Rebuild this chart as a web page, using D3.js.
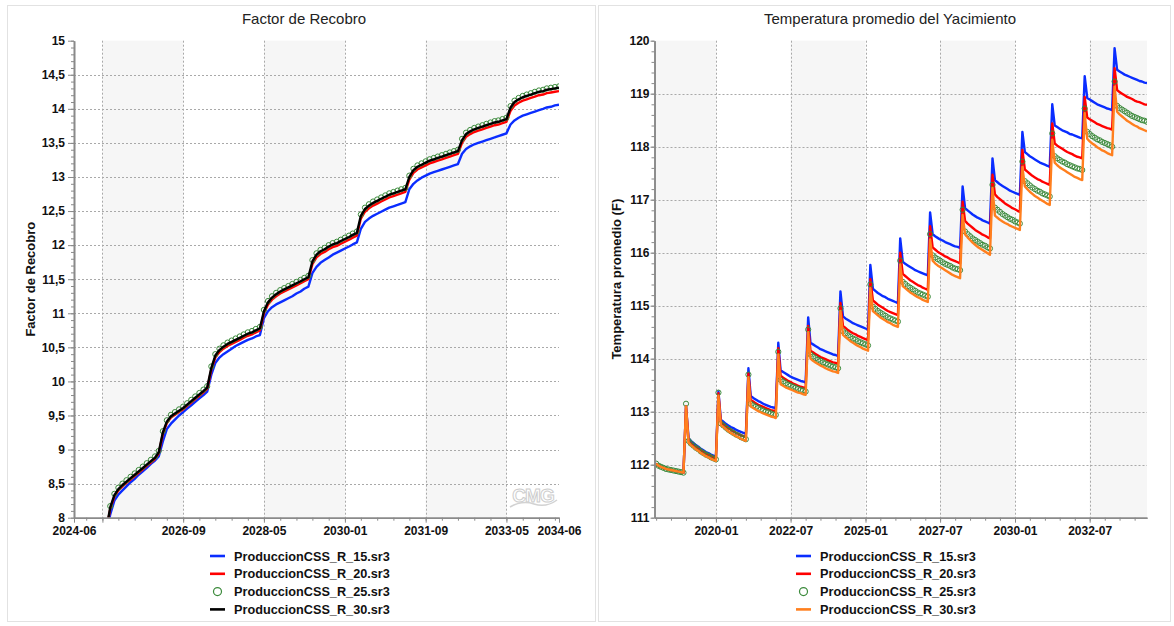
<!DOCTYPE html>
<html><head><meta charset="utf-8">
<script src="https://cdn.jsdelivr.net/npm/d3@7"></script>
<style>
html,body{margin:0;padding:0;background:#fff;}
svg{display:block;font-family:"Liberation Sans",Arial,sans-serif;}
</style></head><body>
<svg id="chart" width="1174" height="626"></svg>
<script>
// ---------------- DATA ----------------
const seriesNames = ["ProduccionCSS_R_15.sr3","ProduccionCSS_R_20.sr3","ProduccionCSS_R_25.sr3","ProduccionCSS_R_30.sr3"];

// Factor de Recobro — monthly values, 2024-06 .. 2034-06
const frStart = "2024-06", frEnd = "2034-06";
const fr15 = [
7.48,7.51,7.54,7.57,7.6,7.63,7.66,7.69,7.78,
8.05,8.25,8.34,8.4,8.46,8.52,8.57,8.63,8.68,8.73,8.79,8.84,8.9,
9.12,9.3,9.38,9.44,9.5,9.55,9.6,9.65,9.7,9.75,9.8,9.85,
10.1,10.27,10.35,10.4,10.44,10.48,10.52,10.55,10.58,10.61,10.63,10.66,10.68,
10.93,11.03,11.09,11.13,11.16,11.19,11.22,11.25,11.29,11.32,11.36,11.39,
11.59,11.68,11.74,11.78,11.82,11.86,11.89,11.92,11.95,11.98,12.01,12.04,
12.24,12.34,12.39,12.43,12.46,12.49,12.52,12.55,12.57,12.59,12.61,12.63,
12.82,12.9,12.95,12.99,13.02,13.05,13.07,13.09,13.11,13.13,13.15,13.17,13.19,
13.34,13.41,13.45,13.48,13.5,13.52,13.54,13.56,13.58,13.6,13.62,13.64,
13.77,13.83,13.87,13.9,13.92,13.94,13.96,13.98,14.0,14.02,14.03,14.05,14.06];
const fr20 = [
7.51,7.54,7.57,7.6,7.63,7.66,7.69,7.72,7.83,
8.13,8.31,8.4,8.46,8.51,8.56,8.61,8.66,8.71,8.76,8.81,8.86,8.94,
9.23,9.39,9.47,9.51,9.55,9.59,9.64,9.69,9.74,9.79,9.84,9.89,
10.17,10.35,10.43,10.48,10.52,10.55,10.58,10.61,10.64,10.67,10.69,10.72,10.75,
11.0,11.13,11.2,11.25,11.29,11.32,11.35,11.38,11.41,11.44,11.47,11.5,
11.72,11.82,11.87,11.9,11.94,11.97,11.99,12.02,12.05,12.08,12.11,12.14,
12.39,12.49,12.54,12.58,12.61,12.64,12.67,12.7,12.72,12.74,12.76,12.78,
12.96,13.06,13.11,13.14,13.17,13.2,13.22,13.24,13.26,13.28,13.3,13.32,13.34,
13.5,13.59,13.63,13.66,13.68,13.7,13.72,13.74,13.76,13.77,13.79,13.81,
13.97,14.05,14.09,14.12,14.14,14.16,14.18,14.2,14.21,14.23,14.24,14.25,14.26];
const fr25 = [
7.53,7.56,7.59,7.62,7.65,7.68,7.71,7.74,7.86,
8.17,8.35,8.44,8.5,8.55,8.6,8.65,8.7,8.75,8.8,8.85,8.9,8.98,
9.27,9.43,9.51,9.55,9.59,9.63,9.68,9.73,9.78,9.83,9.88,9.93,
10.22,10.4,10.48,10.53,10.57,10.6,10.63,10.66,10.69,10.72,10.74,10.77,10.8,
11.05,11.18,11.25,11.3,11.34,11.37,11.4,11.43,11.46,11.49,11.52,11.55,
11.78,11.88,11.93,11.96,12.0,12.03,12.05,12.08,12.11,12.14,12.17,12.2,
12.45,12.55,12.6,12.64,12.67,12.7,12.73,12.76,12.78,12.8,12.82,12.84,
13.02,13.12,13.17,13.2,13.23,13.26,13.28,13.3,13.32,13.34,13.36,13.38,13.4,
13.56,13.65,13.69,13.72,13.74,13.76,13.78,13.8,13.82,13.83,13.85,13.87,
14.04,14.12,14.16,14.19,14.21,14.23,14.25,14.27,14.28,14.3,14.31,14.32,14.33];
const fr30 = [
7.52,7.55,7.58,7.61,7.64,7.67,7.7,7.73,7.85,
8.15,8.33,8.42,8.48,8.53,8.58,8.63,8.68,8.73,8.78,8.83,8.88,8.96,
9.25,9.41,9.49,9.53,9.57,9.61,9.66,9.71,9.76,9.81,9.86,9.91,
10.2,10.38,10.46,10.51,10.55,10.58,10.61,10.64,10.67,10.7,10.72,10.75,10.78,
11.03,11.16,11.23,11.28,11.32,11.35,11.38,11.41,11.44,11.47,11.5,11.53,
11.76,11.86,11.91,11.94,11.98,12.01,12.03,12.06,12.09,12.12,12.15,12.18,
12.43,12.53,12.58,12.62,12.65,12.68,12.71,12.74,12.76,12.78,12.8,12.82,
13.0,13.1,13.15,13.18,13.21,13.24,13.26,13.28,13.3,13.32,13.34,13.36,13.38,
13.54,13.63,13.67,13.7,13.72,13.74,13.76,13.78,13.8,13.81,13.83,13.85,
14.02,14.1,14.14,14.17,14.19,14.21,14.23,14.25,14.26,14.28,14.29,14.3,14.31];
const frXTicks = ["2025-01","2026-09","2028-05","2030-01","2031-09","2033-05"];
const frHiddenLabels = ["2025-01"];
const frYTicks = [8,8.5,9,9.5,10,10.5,11,11.5,12,12.5,13,13.5,14,14.5,15];

// Temperatura promedio — monthly values, 2018-01 .. 2034-06
const tpStart = "2018-01", tpEnd = "2034-06";
const tp15 = [
112.02,111.98,111.96,111.94,111.92,111.91,111.9,111.89,111.88,111.87,111.86,111.85,
113.1,112.5,112.45,112.41,112.37,112.34,112.3,112.27,112.24,112.22,112.19,112.17,112.15,
113.38,112.85,112.81,112.77,112.74,112.71,112.69,112.66,112.64,112.62,112.6,112.58,
113.82,113.3,113.26,113.23,113.2,113.18,113.15,113.13,113.11,113.09,113.08,113.06,
114.3,113.78,113.75,113.72,113.69,113.66,113.64,113.62,113.6,113.58,113.57,113.55,
114.78,114.3,114.27,114.24,114.21,114.18,114.16,114.14,114.12,114.1,114.08,114.07,114.05,
115.27,114.8,114.76,114.73,114.7,114.67,114.65,114.63,114.61,114.59,114.57,114.55,
115.77,115.32,115.28,115.24,115.21,115.18,115.16,115.13,115.11,115.09,115.07,115.05,
116.27,115.83,115.79,115.76,115.73,115.7,115.67,115.65,115.63,115.61,115.59,115.57,
116.76,116.35,116.31,116.28,116.25,116.23,116.2,116.18,116.16,116.14,116.12,116.11,116.09,
117.25,116.84,116.8,116.76,116.72,116.69,116.66,116.64,116.61,116.59,116.57,116.55,
117.78,117.37,117.33,117.29,117.26,117.23,117.2,117.17,117.15,117.13,117.11,117.09,
118.28,117.9,117.86,117.82,117.79,117.76,117.73,117.7,117.68,117.66,117.64,117.62,
118.8,118.4,118.37,118.34,118.31,118.29,118.27,118.24,118.23,118.21,118.19,118.17,118.16,
119.33,118.92,118.89,118.86,118.83,118.8,118.78,118.76,118.74,118.72,118.71,118.69,
119.86,119.45,119.42,119.39,119.36,119.34,119.32,119.3,119.28,119.26,119.24,119.23,119.21,119.2];
const tp20 = [
112.02,111.98,111.96,111.94,111.92,111.91,111.9,111.89,111.88,111.87,111.86,111.85,
113.1,112.45,112.4,112.36,112.33,112.3,112.27,112.24,112.21,112.18,112.16,112.14,112.12,
113.35,112.8,112.76,112.72,112.69,112.66,112.63,112.6,112.58,112.56,112.54,112.52,
113.72,113.22,113.19,113.16,113.13,113.11,113.09,113.07,113.05,113.03,113.02,113.0,
114.2,113.68,113.64,113.61,113.58,113.56,113.53,113.51,113.49,113.47,113.46,113.44,
114.62,114.15,114.12,114.09,114.06,114.03,114.01,113.99,113.97,113.95,113.93,113.92,113.9,
115.05,114.62,114.58,114.54,114.51,114.48,114.46,114.43,114.41,114.39,114.37,114.35,
115.5,115.1,115.06,115.02,114.99,114.96,114.93,114.9,114.88,114.86,114.84,114.82,
116.0,115.6,115.56,115.52,115.48,115.45,115.42,115.39,115.37,115.34,115.32,115.3,
116.5,116.1,116.06,116.02,115.99,115.96,115.93,115.91,115.88,115.86,115.84,115.82,115.8,
116.96,116.6,116.55,116.51,116.47,116.43,116.4,116.37,116.34,116.32,116.29,116.27,
117.47,117.1,117.05,117.01,116.97,116.93,116.9,116.87,116.84,116.82,116.79,116.77,
117.94,117.57,117.53,117.49,117.45,117.42,117.39,117.37,117.34,117.32,117.3,117.28,
118.44,118.06,118.02,117.99,117.96,117.93,117.9,117.88,117.86,117.83,117.81,117.8,117.78,
118.94,118.55,118.52,118.49,118.46,118.43,118.41,118.39,118.37,118.35,118.34,118.32,
119.48,119.07,119.03,119.0,118.97,118.94,118.92,118.9,118.87,118.85,118.84,118.82,118.8,118.79];
const tp25 = [
112.02,111.98,111.96,111.94,111.92,111.91,111.9,111.89,111.88,111.87,111.86,111.85,
113.15,112.45,112.4,112.36,112.32,112.29,112.25,112.22,112.19,112.17,112.14,112.12,112.1,
113.36,112.78,112.74,112.7,112.66,112.63,112.6,112.57,112.55,112.52,112.5,112.48,
113.7,113.15,113.12,113.09,113.07,113.04,113.02,113.0,112.99,112.97,112.95,112.94,
114.13,113.6,113.57,113.54,113.51,113.49,113.47,113.45,113.43,113.41,113.4,113.38,
114.55,114.08,114.04,114.01,113.98,113.96,113.93,113.91,113.89,113.87,113.85,113.84,113.82,
114.95,114.52,114.48,114.44,114.41,114.38,114.36,114.33,114.31,114.29,114.27,114.25,
115.4,114.98,114.94,114.9,114.87,114.84,114.81,114.78,114.76,114.74,114.72,114.7,
115.85,115.45,115.41,115.37,115.34,115.31,115.28,115.25,115.23,115.21,115.19,115.17,
116.35,115.95,115.91,115.88,115.85,115.82,115.79,115.77,115.75,115.72,115.7,115.69,115.67,
116.81,116.4,116.35,116.31,116.27,116.24,116.21,116.18,116.15,116.13,116.1,116.08,
117.28,116.85,116.81,116.77,116.73,116.7,116.67,116.64,116.62,116.59,116.57,116.55,
117.72,117.35,117.31,117.27,117.23,117.2,117.17,117.15,117.12,117.1,117.08,117.06,
118.25,117.82,117.78,117.75,117.72,117.7,117.67,117.65,117.63,117.61,117.59,117.58,117.56,
118.72,118.28,118.24,118.2,118.17,118.14,118.12,118.09,118.07,118.05,118.03,118.0,
119.23,118.77,118.73,118.7,118.67,118.64,118.61,118.58,118.56,118.54,118.52,118.5,118.49,118.47];
const tp30 = [
112.02,111.98,111.96,111.94,111.92,111.91,111.9,111.89,111.88,111.87,111.86,111.85,
113.1,112.42,112.37,112.33,112.29,112.26,112.22,112.19,112.16,112.14,112.11,112.09,112.07,
113.3,112.75,112.71,112.67,112.63,112.6,112.57,112.54,112.52,112.49,112.47,112.45,
113.65,113.1,113.07,113.04,113.01,112.99,112.97,112.95,112.93,112.91,112.9,112.88,
114.08,113.52,113.49,113.46,113.44,113.42,113.4,113.38,113.36,113.35,113.33,113.32,
114.5,114.0,113.96,113.93,113.9,113.87,113.85,113.82,113.8,113.78,113.76,113.75,113.73,
114.9,114.45,114.41,114.37,114.33,114.3,114.27,114.24,114.22,114.19,114.17,114.15,
115.33,114.9,114.86,114.82,114.78,114.75,114.72,114.69,114.67,114.64,114.62,114.6,
115.78,115.37,115.33,115.29,115.25,115.22,115.19,115.16,115.14,115.11,115.09,115.07,
116.25,115.85,115.8,115.76,115.73,115.7,115.67,115.64,115.61,115.58,115.56,115.54,115.52,
116.71,116.35,116.29,116.24,116.19,116.15,116.11,116.08,116.05,116.02,115.99,115.96,
117.22,116.7,116.66,116.62,116.59,116.56,116.54,116.51,116.49,116.47,116.45,116.43,
117.62,117.25,117.2,117.15,117.11,117.07,117.04,117.01,116.98,116.95,116.92,116.9,
118.13,117.7,117.65,117.61,117.58,117.55,117.52,117.49,117.46,117.43,117.41,117.39,117.37,
118.63,118.15,118.1,118.06,118.03,117.99,117.96,117.93,117.91,117.88,117.86,117.84,
119.13,118.66,118.61,118.57,118.53,118.49,118.46,118.43,118.4,118.38,118.35,118.33,118.31,118.29];
const tpXTicks = ["2020-01","2022-07","2025-01","2027-07","2030-01","2032-07"];
const tpYTicks = [111,112,113,114,115,116,117,118,119,120];

// ---------------- DRAWING ----------------
const parseM = d3.timeParse("%Y-%m");
const parseD = d3.timeParse("%Y-%m-%d");
const fmtM = d3.timeFormat("%Y-%m");
const svg = d3.select("#chart");
const AXIS = "#8a8a8a", GRID = "#a9a9a9", BAND = "#f6f6f6";

function monthsBetween(a, b) { return d3.timeMonth.range(parseM(a), d3.timeDay.offset(parseM(b), 1)); }

function drawChart(cfg) {
  const g = svg.append("g");
  g.append("rect").attr("x", cfg.panel[0]+0.5).attr("y", cfg.panel[1]+0.5)
    .attr("width", cfg.panel[2]).attr("height", cfg.panel[3])
    .attr("fill", "#fff").attr("stroke", "#e2e2e2");

  const x = d3.scaleTime().domain(cfg.xDomain).range([cfg.x0, cfg.x1]);
  const y = d3.scaleLinear().domain(cfg.yDomain).range([cfg.yBot, cfg.yTop]);
  const majors = cfg.xTicks.map(parseM);

  // alternating bands
  const bounds = [cfg.xDomain[0], ...majors, cfg.xDomain[1]];
  for (let i = 0; i < bounds.length - 1; i++) {
    if (i % 2 === cfg.shadeParity) {
      g.append("rect").attr("x", x(bounds[i])).attr("y", cfg.yTop)
        .attr("width", x(bounds[i+1]) - x(bounds[i])).attr("height", cfg.yBot - cfg.yTop)
        .attr("fill", BAND);
    }
  }
  // grid
  g.append("g").selectAll("line").data(cfg.yTicks.filter(v => v > cfg.yDomain[0] && v < cfg.yDomain[1]))
    .join("line").attr("x1", cfg.x0).attr("x2", cfg.x1)
    .attr("y1", d => Math.round(y(d)) + 0.5).attr("y2", d => Math.round(y(d)) + 0.5)
    .attr("stroke", GRID).attr("stroke-dasharray", "2,2");
  g.append("g").selectAll("line").data(majors)
    .join("line").attr("y1", cfg.yTop).attr("y2", cfg.yBot)
    .attr("x1", d => Math.round(x(d)) + 0.5).attr("x2", d => Math.round(x(d)) + 0.5)
    .attr("stroke", GRID).attr("stroke-dasharray", "2,2");

  // watermark
  if (cfg.logo) {
    const lg = g.append("g").attr("fill", "none").attr("stroke", "#d2d2d2");
    lg.append("text").attr("x", 533).attr("y", 502).attr("text-anchor", "middle")
      .attr("font-size", 19).attr("font-weight", "bold").attr("fill", "#ffffff")
      .attr("stroke", "#cdcdcd").attr("stroke-width", 1).attr("letter-spacing", -1).text("CMG");
    lg.append("path").attr("d", "M510,507 Q522,500 534,504 T557,500").attr("stroke-width", 1.5);
  }

  // clip
  const clipId = "clip" + cfg.id;
  svg.append("defs").append("clipPath").attr("id", clipId).append("rect")
    .attr("x", cfg.x0).attr("y", cfg.yTop - 2).attr("width", cfg.x1 - cfg.x0).attr("height", cfg.yBot - cfg.yTop + 2);
  const plot = g.append("g").attr("clip-path", `url(#${clipId})`);

  const dates = monthsBetween(cfg.start, cfg.end);
  const line = d3.line().x(d => x(d[0])).y(d => y(d[1]));
  cfg.series.forEach(s => {
    const pts = s.values.map((v, i) => [dates[i], v]).filter(p => p[0]);
    if (s.marker) {
      plot.append("g").selectAll("circle").data(pts).join("circle")
        .attr("cx", d => x(d[0])).attr("cy", d => y(d[1])).attr("r", 2.6)
        .attr("fill", "none").attr("stroke", s.color).attr("stroke-width", 1);
    } else {
      plot.append("path").datum(pts).attr("d", line).attr("fill", "none")
        .attr("stroke", s.color).attr("stroke-width", 2.4).attr("stroke-linejoin", "round");
    }
  });

  // axes
  const yAxis = d3.axisLeft(y).tickValues(cfg.yTicks).tickSize(cfg.yTickSize).tickPadding(cfg.yTickPad)
    .tickSizeOuter(0).tickFormat(d => String(d).replace(".", ","));
  const ya = g.append("g").attr("transform", `translate(${cfg.x0},0)`).call(yAxis);
  const yMinor = d3.axisLeft(y).tickValues(d3.range(cfg.yDomain[0], cfg.yDomain[1] + 1e-6, cfg.yMinor).map(v => +v.toFixed(2)))
    .tickSize(3).tickFormat("").tickSizeOuter(0);
  const ym = g.append("g").attr("transform", `translate(${cfg.x0},0)`).call(yMinor);

  const xTickVals = cfg.endLabels ? [cfg.xDomain[0], ...majors, cfg.xDomain[1]] : majors;
  const hidden = new Set(cfg.hiddenLabels || []);
  const xAxis = d3.axisBottom(x).tickValues(xTickVals).tickSize(5).tickPadding(4).tickSizeOuter(0)
    .tickFormat(d => hidden.has(fmtM(d)) ? "" : fmtM(d));
  const xa = g.append("g").attr("transform", `translate(0,${cfg.yBot})`).call(xAxis);
  const xMinor = d3.axisBottom(x).tickValues(d3.timeMonth.every(cfg.xMinor).range(cfg.xDomain[0], cfg.xDomain[1]))
    .tickSize(3).tickFormat("").tickSizeOuter(0);
  const xm = g.append("g").attr("transform", `translate(0,${cfg.yBot})`).call(xMinor);

  [ya, ym, xa, xm].forEach(a => {
    a.select(".domain").attr("stroke", AXIS).attr("stroke-width", 1.6);
    a.selectAll(".tick line").attr("stroke", AXIS);
    a.selectAll("text").attr("font-family", "Liberation Sans, Arial, sans-serif")
      .attr("font-size", 12).attr("font-weight", "bold").attr("fill", "#111");
  });

  // titles
  g.append("text").attr("x", cfg.titleX).attr("y", 24).attr("text-anchor", "middle")
    .attr("font-size", 15).attr("fill", "#222").text(cfg.title);
  g.append("text").attr("transform", `translate(${cfg.yLabelX},${(cfg.yTop + cfg.yBot) / 2}) rotate(-90)`)
    .attr("text-anchor", "middle").attr("font-size", 13).attr("font-weight", "bold").attr("fill", "#111")
    .text(cfg.yLabel);

  // legend
  const lgd = g.append("g");
  cfg.series.forEach((s, i) => {
    const cy = 556 + i * 17.8;
    if (s.marker) {
      lgd.append("circle").attr("cx", cfg.legX + 7.5).attr("cy", cy).attr("r", 4)
        .attr("fill", "none").attr("stroke", s.color).attr("stroke-width", 1.2);
    } else {
      lgd.append("line").attr("x1", cfg.legX).attr("x2", cfg.legX + 15).attr("y1", cy).attr("y2", cy)
        .attr("stroke", s.color).attr("stroke-width", 2.6);
    }
    lgd.append("text").attr("x", cfg.legX + 24).attr("y", cy).attr("dy", "0.36em")
      .attr("font-size", 12.7).attr("font-weight", "bold").attr("fill", "#111").text(s.name);
  });
}

drawChart({
  id: "L", panel: [7, 5, 588, 616],
  x0: 74, x1: 559, yTop: 40.7, yBot: 517.7,
  xDomain: [parseM(frStart), parseM(frEnd)], yDomain: [8, 15],
  xTicks: frXTicks, hiddenLabels: frHiddenLabels, endLabels: true, shadeParity: 1,
  yTicks: frYTicks, yMinor: 0.1, xMinor: 4, yTickSize: 6, yTickPad: 3,
  start: frStart, end: frEnd, logo: true,
  title: "Factor de Recobro", titleX: 304, yLabel: "Factor de Recobro", yLabelX: 35,
  legX: 210,
  series: [
    {name: seriesNames[0], values: fr15, color: "#0a2dff"},
    {name: seriesNames[1], values: fr20, color: "#ff0000"},
    {name: seriesNames[2], values: fr25, color: "#3b8a3b", marker: true},
    {name: seriesNames[3], values: fr30, color: "#000000"}
  ]
});

drawChart({
  id: "R", panel: [598, 5, 572, 616],
  x0: 654.5, x1: 1147, yTop: 40.7, yBot: 517.7,
  xDomain: [parseD("2017-12-12"), parseM(tpEnd)], yDomain: [111, 120],
  xTicks: tpXTicks, endLabels: false, shadeParity: 0,
  yTicks: tpYTicks, yMinor: 0.2, xMinor: 6, yTickSize: 4, yTickPad: 1,
  start: tpStart, end: tpEnd, logo: false,
  title: "Temperatura promedio del Yacimiento", titleX: 890, yLabel: "Temperatura promedio (F)", yLabelX: 621,
  legX: 796,
  series: [
    {name: seriesNames[0], values: tp15, color: "#0a2dff"},
    {name: seriesNames[1], values: tp20, color: "#ff0000"},
    {name: seriesNames[2], values: tp25, color: "#3b8a3b", marker: true},
    {name: seriesNames[3], values: tp30, color: "#ff7f1e"}
  ]
});
</script>
</body></html>
